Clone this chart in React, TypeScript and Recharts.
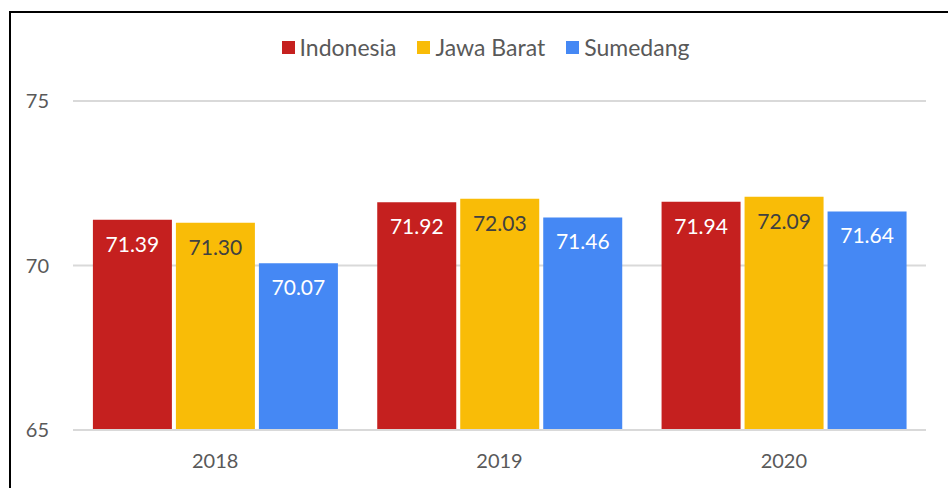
import { BarChart, Bar, XAxis, YAxis, CartesianGrid, Legend, LabelList } from "recharts";

const years = ["2018", "2019", "2020"];
const indonesia = [71.39, 71.92, 71.94];
const jawaBarat = [71.3, 72.03, 72.09];
const sumedang = [70.07, 71.46, 71.64];
const yTicks = [65, 70, 75];

const FONT = "Lato, 'Open Sans', sans-serif";

const data = years.map((year, i) => ({
  year,
  indonesia: indonesia[i],
  jawaBarat: jawaBarat[i],
  sumedang: sumedang[i],
}));

function LegendContent({ payload }: any) {
  return (
    <div style={{ display: "flex", justifyContent: "center", fontFamily: FONT, fontSize: 23, lineHeight: "25px", color: "#595959" }}>
      {(payload || []).map((p: any) => (
        <div key={p.value} style={{ display: "flex", alignItems: "center", marginRight: 21 }}>
          <span style={{ width: 13, height: 13, background: p.color, marginRight: 5, display: "inline-block" }} />
          <span>{p.value}</span>
        </div>
      ))}
    </div>
  );
}

const fmt = (v: any) => Number(v).toFixed(2);

export default function App() {
  return (
    <div style={{ position: "absolute", left: 0, top: 0, width: 948, height: 488, overflow: "hidden", background: "#fff" }}>
      <div
        style={{
          position: "absolute",
          left: 9,
          top: 11,
          width: 1200,
          height: 800,
          border: "2px solid #000",
        }}
      />
      <div style={{ position: "absolute", left: 0, top: 0 }}>
        <BarChart
          width={948}
          height={488}
          data={data}
          margin={{ top: 76, right: 22, bottom: 28, left: 0 }}
          barCategoryGap="7%"
          barGap={4}
        >
          <CartesianGrid vertical={false} stroke="#d9d9d9" strokeWidth={2} />
          <XAxis
            dataKey="year"
            height={30}
            tickSize={0}
            tickMargin={24}
            axisLine={{ stroke: "#d9d9d9", strokeWidth: 2 }}
            tick={{ fill: "#595959", fontSize: 20, fontFamily: FONT }}
          />
          <YAxis
            width={73}
            domain={[65, 75]}
            ticks={yTicks}
            tickSize={0}
            tickMargin={24}
            axisLine={false}
            tick={{ fill: "#595959", fontSize: 20, fontFamily: FONT }}
          />
          <Legend
            verticalAlign="top"
            content={<LegendContent />}
            wrapperStyle={{ top: 35, left: 22, width: 948, height: 25 }}
          />
          <Bar dataKey="indonesia" name="Indonesia" fill="#C5201F" isAnimationActive={false}>
            <LabelList dataKey="indonesia" position="insideTop" offset={17} fill="#ffffff" fontSize={21} fontFamily={FONT} formatter={fmt} />
          </Bar>
          <Bar dataKey="jawaBarat" name="Jawa Barat" fill="#F9BC07" isAnimationActive={false}>
            <LabelList dataKey="jawaBarat" position="insideTop" offset={17} fill="#404040" fontSize={21} fontFamily={FONT} formatter={fmt} />
          </Bar>
          <Bar dataKey="sumedang" name="Sumedang" fill="#4588F4" isAnimationActive={false}>
            <LabelList dataKey="sumedang" position="insideTop" offset={17} fill="#ffffff" fontSize={21} fontFamily={FONT} formatter={fmt} />
          </Bar>
        </BarChart>
      </div>
    </div>
  );
}
